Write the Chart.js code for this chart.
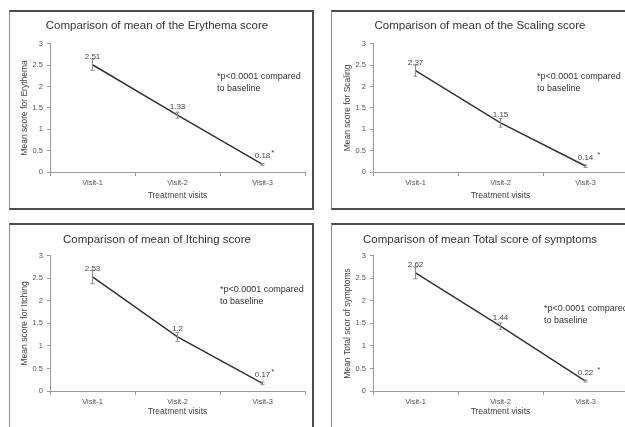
<!DOCTYPE html>
<html>
<head>
<meta charset="utf-8">
<script src="https://cdn.jsdelivr.net/npm/chart.js@4.4.1/dist/chart.umd.min.js"></script>
<style>
  body { margin: 0; background: #fff; width: 625px; height: 427px; overflow: hidden; position: relative; }
  .box { position: absolute; box-sizing: border-box; border: 2px solid #4d4d4d; border-left: 1px solid #8a8a8a; }
  canvas { position: absolute; }
</style>
</head>
<body>
<div class="box" style="left:9px;top:10px;width:305px;height:200px"></div>
<div class="box" style="left:331px;top:10px;width:310px;height:200px"></div>
<div class="box" style="left:9px;top:223px;width:305px;height:220px"></div>
<div class="box" style="left:331px;top:223px;width:310px;height:220px"></div>
<canvas id="erythema" width="304" height="199" style="left:9px;top:10px"></canvas>
<canvas id="scaling" width="304" height="199" style="left:332px;top:10px"></canvas>
<canvas id="itching" width="304" height="203" style="left:9px;top:224px"></canvas>
<canvas id="total" width="304" height="203" style="left:332px;top:224px"></canvas>
<script>
// data
const visits = ["Visit-1", "Visit-2", "Visit-3"];

const erythemaMean = [2.51, 1.33, 0.18];
const erythemaErr = [0.13, 0.07, 0.02];

const scalingMean = [2.37, 1.15, 0.14];
const scalingErr = [0.13, 0.1, 0.03];

const itchingMean = [2.53, 1.2, 0.17];
const itchingErr = [0.15, 0.1, 0.03];

const totalMean = [2.62, 1.44, 0.22];
const totalErr = [0.13, 0.07, 0.02];

const noteLines = ["*p<0.0001 compared", "to baseline"];

const FONT = "'Liberation Sans', Arial, sans-serif";

// error bars + value labels + the p-value note
const extras = {
  id: "extras",
  afterDatasetsDraw(chart, args, opts) {
    const ctx = chart.ctx;
    const y = chart.scales.y;
    const pts = chart.getDatasetMeta(0).data;
    ctx.save();
    pts.forEach((pt, i) => {
      const v = opts.values[i], e = opts.errors[i];
      const t = y.getPixelForValue(v + e), b = y.getPixelForValue(v - e);
      ctx.strokeStyle = "#8c8c8c";
      ctx.lineWidth = 1;
      ctx.beginPath();
      ctx.moveTo(pt.x, t); ctx.lineTo(pt.x, b);
      ctx.moveTo(pt.x - 2, t); ctx.lineTo(pt.x + 2, t);
      ctx.moveTo(pt.x - 2, b); ctx.lineTo(pt.x + 2, b);
      ctx.stroke();

      ctx.fillStyle = "#444";
      ctx.font = "8px " + FONT;
      ctx.textAlign = "center";
      ctx.textBaseline = "alphabetic";
      const txt = String(v);
      ctx.fillText(txt, pt.x, pt.y - 6);
      if (i === pts.length - 1) {
        const w = ctx.measureText(txt).width;
        ctx.textAlign = "left";
        ctx.fillText("*", pt.x + w / 2 + opts.starGap, pt.y - 9);
      }
    });
    ctx.fillStyle = "#333";
    ctx.font = "9px " + FONT;
    ctx.textAlign = "left";
    ctx.textBaseline = "middle";
    noteLines.forEach((line, k) => ctx.fillText(line, opts.noteX, opts.noteY + k * 12));
    ctx.restore();
  }
};

const drawPanel = (id, title, yTitle, values, errors, p) => {
  let ctx = document.getElementById(id).getContext("2d");

  let myChart = new Chart(ctx, {
    type: "line",
    data: {
      labels: visits,
      datasets: [
        {
          data: values,
          borderColor: "#333",
          borderWidth: 1.5,
          pointRadius: 0,
          tension: 0,
        },
      ],
    },
    options: {
      responsive: false,
      animation: false,
      layout: { padding: { left: 0, right: 8, bottom: p.padBottom } },
      plugins: {
        legend: { display: false },
        tooltip: { enabled: false },
        title: {
          display: true,
          text: title,
          color: "#333",
          font: { family: FONT, size: 11.5, weight: "normal" },
          padding: { top: p.titleTop, bottom: p.titleBottom },
        },
        extras: { values: values, errors: errors, starGap: p.starGap, noteX: p.noteX, noteY: p.noteY },
      },
      scales: {
        x: {
          offset: true,
          afterFit: (s) => { s.height = p.xHeight; },
          grid: { drawOnChartArea: false, offset: true, tickLength: 4, color: "#9a9a9a" },
          border: { color: "#9a9a9a" },
          ticks: { color: "#555", font: { family: FONT, size: 7.5 }, padding: 2 },
          title: {
            display: true,
            text: "Treatment visits",
            color: "#444",
            font: { family: FONT, size: 8.5 },
            padding: { top: 0, bottom: p.xTitleBottom },
          },
        },
        y: {
          min: 0,
          max: 3,
          afterFit: (s) => { s.width = p.yWidth; },
          grid: { drawOnChartArea: false, tickLength: 3, color: "#9a9a9a" },
          border: { color: "#9a9a9a" },
          ticks: {
            stepSize: 0.5,
            color: "#555",
            font: { family: FONT, size: 7.5 },
            padding: 4,
            callback: (v) => String(v),
          },
          title: {
            display: true,
            text: yTitle,
            color: "#444",
            font: { family: FONT, size: 8.5 },
            padding: { top: 11, bottom: 0 },
          },
        },
      },
    },
    plugins: [extras],
  });
};

const upperRow = { padBottom: 3, titleTop: 9, titleBottom: 11, xHeight: 34, xTitleBottom: 5, yWidth: 41 };
const lowerRow = { padBottom: 6, titleTop: 9, titleBottom: 9, xHeight: 30, xTitleBottom: 4, yWidth: 41 };

drawPanel("erythema", "Comparison of mean of the Erythema score", "Mean score for Erythema",
  erythemaMean, erythemaErr, Object.assign({}, upperRow, { starGap: 1, noteX: 208, noteY: 67 }));
drawPanel("scaling", "Comparison of mean of the Scaling score", "Mean score for Scaling",
  scalingMean, scalingErr, Object.assign({}, upperRow, { starGap: 4, noteX: 205, noteY: 67 }));
drawPanel("itching", "Comparison of mean of Itching score", "Mean score for Itching",
  itchingMean, itchingErr, Object.assign({}, lowerRow, { starGap: 1, noteX: 211, noteY: 66 }));
drawPanel("total", "Comparison of mean Total score of symptoms", "Mean Total scor of symptoms",
  totalMean, totalErr, Object.assign({}, lowerRow, { starGap: 4, noteX: 212, noteY: 85 }));
</script>
</body>
</html>
